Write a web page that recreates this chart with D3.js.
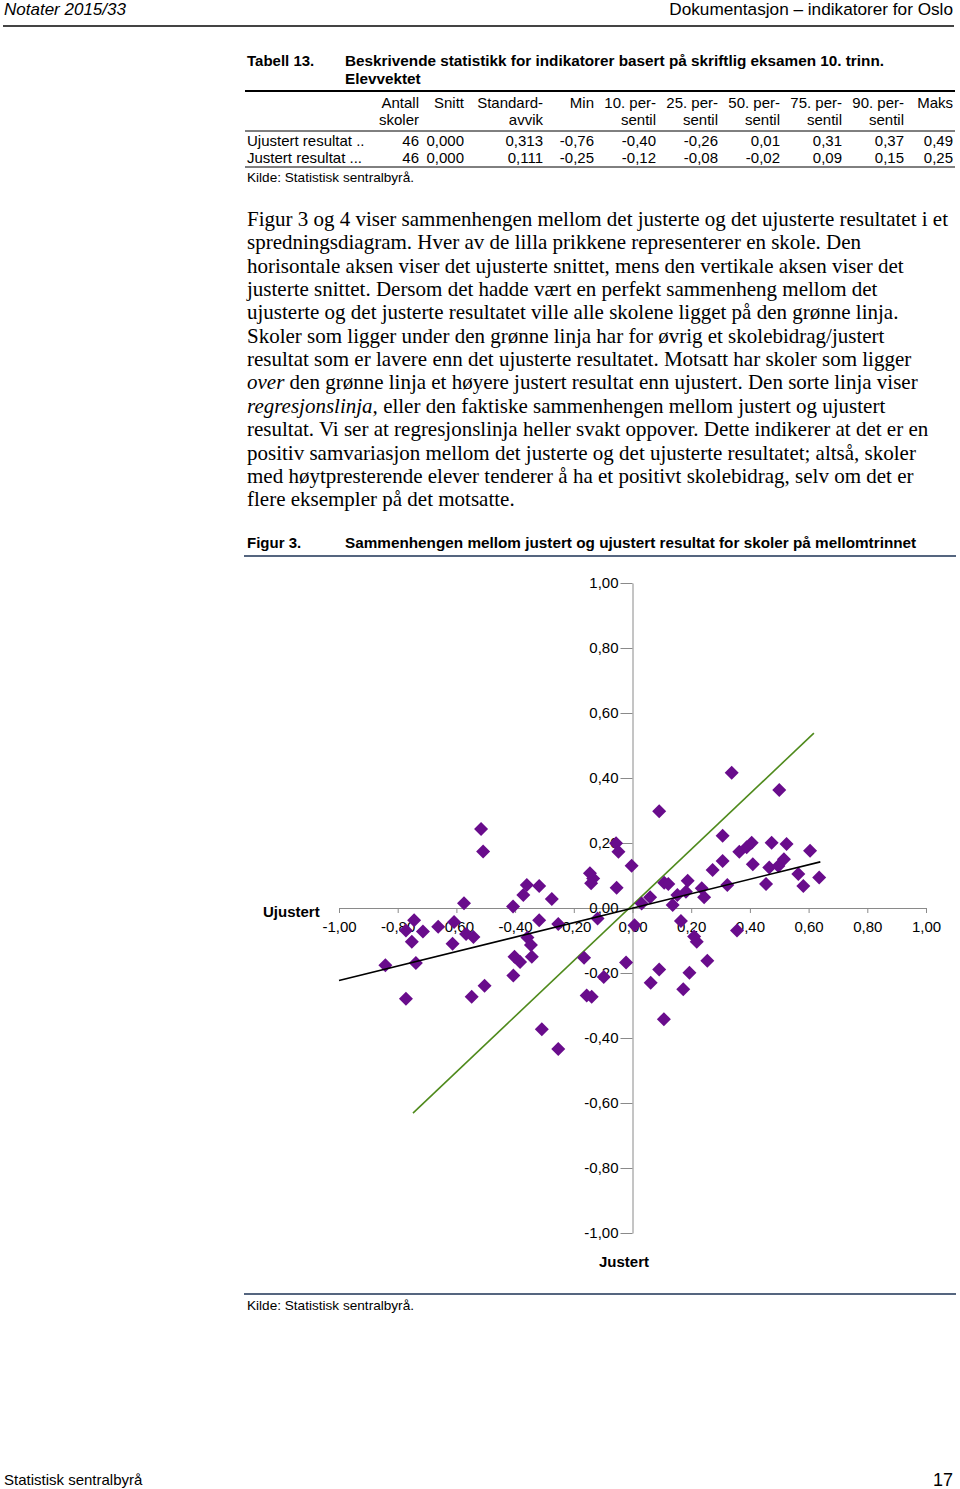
<!DOCTYPE html>
<html>
<head>
<meta charset="utf-8">
<script src="https://cdn.jsdelivr.net/npm/d3@7"></script>
<style>
  body { margin: 0; background: #fff; }
  text { font-family: "Liberation Sans", Arial, Helvetica, sans-serif; fill: #000; }
  .serif { font-family: "Liberation Serif", "Times New Roman", serif; font-size: 21px; }
  .axis path, .axis line { stroke: #8a8a8a; }
  .axis text { font-size: 15px; fill: #000; }
</style>
</head>
<body>
<div id="page"></div>
<script>
// table 13
var colHead1 = ["Antall", "Snitt", "Standard-", "Min", "10. per-", "25. per-", "50. per-", "75. per-", "90. per-", "Maks"];
var colHead2 = ["skoler", "", "avvik", "", "sentil", "sentil", "sentil", "sentil", "sentil", ""];
var rowLabels = ["Ujustert resultat ..", "Justert resultat ..."];
var ujustertStats = ["46", "0,000", "0,313", "-0,76", "-0,40", "-0,26", "0,01", "0,31", "0,37", "0,49"];
var justertStats = ["46", "0,000", "0,111", "-0,25", "-0,12", "-0,08", "-0,02", "0,09", "0,15", "0,25"];

// figure 3: one point per school
var ujustert = [-0.516, -0.509, -0.574, -0.407, -0.744, -0.772, -0.714, -0.662, -0.608, -0.567,
  -0.542, -0.752, -0.613, -0.842, -0.738, -0.772, -0.548, -0.504, -0.402, -0.383,
  -0.406, -0.360, -0.318, -0.372, -0.275, -0.318, -0.253, -0.358, -0.346, -0.343,
  -0.309, -0.253, -0.119, -0.165, -0.098, -0.156, -0.139, -0.022, 0.007, -0.056,
  -0.048, -0.003, -0.145, -0.134, -0.141, -0.054, 0.338, 0.500, 0.091, 0.307,
  0.364, 0.389, 0.406, 0.474, 0.525, 0.605, 0.307, 0.273, 0.410, 0.466,
  0.497, 0.516, 0.565, 0.636, 0.455, 0.582, 0.323, 0.108, 0.122, 0.188,
  0.236, 0.182, 0.153, 0.137, 0.244, 0.060, 0.031, 0.165, 0.210, 0.219,
  0.356, 0.255, 0.091, 0.194, 0.062, 0.173, 0.107];
var justert = [0.243, 0.174, 0.015, 0.005, -0.038, -0.069, -0.072, -0.058, -0.043, -0.080,
  -0.089, -0.104, -0.110, -0.176, -0.169, -0.279, -0.273, -0.239, -0.150, -0.166,
  -0.208, 0.071, 0.068, 0.040, 0.028, -0.038, -0.049, -0.091, -0.114, -0.150,
  -0.373, -0.434, -0.032, -0.153, -0.212, -0.269, -0.273, -0.168, -0.053, 0.199,
  0.173, 0.130, 0.107, 0.091, 0.076, 0.062, 0.416, 0.363, 0.298, 0.222,
  0.173, 0.187, 0.201, 0.201, 0.197, 0.176, 0.145, 0.117, 0.135, 0.125,
  0.129, 0.150, 0.105, 0.094, 0.074, 0.068, 0.071, 0.078, 0.074, 0.084,
  0.061, 0.050, 0.040, 0.009, 0.033, 0.033, 0.014, -0.040, -0.088, -0.104,
  -0.069, -0.162, -0.189, -0.199, -0.230, -0.250, -0.342];
// green line (perfect relation) and black regression line, end points
var greenLine = [[-0.748, -0.631], [0.618, 0.538]];
var regLine = [[-1.0, -0.223], [0.64, 0.142]];
var axisTicks = [-1, -0.8, -0.6, -0.4, -0.2, 0, 0.2, 0.4, 0.6, 0.8, 1];

var paragraph = [
  "Figur 3 og 4 viser sammenhengen mellom det justerte og det ujusterte resultatet i et",
  "spredningsdiagram. Hver av de lilla prikkene representerer en skole. Den",
  "horisontale aksen viser det ujusterte snittet, mens den vertikale aksen viser det",
  "justerte snittet. Dersom det hadde vært en perfekt sammenheng mellom det",
  "ujusterte og det justerte resultatet ville alle skolene ligget på den grønne linja.",
  "Skoler som ligger under den grønne linja har for øvrig et skolebidrag/justert",
  "resultat som er lavere enn det ujusterte resultatet. Motsatt har skoler som ligger",
  "<i>over</i> den grønne linja et høyere justert resultat enn ujustert. Den sorte linja viser",
  "<i>regresjonslinja,</i> eller den faktiske sammenhengen mellom justert og ujustert",
  "resultat. Vi ser at regresjonslinja heller svakt oppover. Dette indikerer at det er en",
  "positiv samvariasjon mellom det justerte og det ujusterte resultatet; altså, skoler",
  "med høytpresterende elever tenderer å ha et positivt skolebidrag, selv om det er",
  "flere eksempler på det motsatte."
];

function draw() {
  var w = 960, h = 1489;
  var svg = d3.select("#page").append("svg")
    .attr("width", w)
    .attr("height", h);

  svg.append("rect").attr("width", w).attr("height", h).attr("fill", "#fff");

  // page header
  svg.append("text").attr("x", 4).attr("y", 15).style("font-size", "17px").style("font-style", "italic")
    .text("Notater 2015/33");
  svg.append("text").attr("x", 953).attr("y", 15).style("font-size", "17.2px").attr("text-anchor", "end")
    .text("Dokumentasjon – indikatorer for Oslo");
  svg.append("line").attr("x1", 3).attr("x2", 954).attr("y1", 26).attr("y2", 26)
    .attr("stroke", "#444").attr("stroke-width", 2);

  // table
  var colRight = [419, 464, 543, 594, 656, 718, 780, 842, 904, 953];
  svg.append("text").attr("x", 247).attr("y", 66).style("font-size", "15px").style("font-weight", "bold").text("Tabell 13.");
  svg.append("text").attr("x", 345).attr("y", 66).style("font-size", "15.3px").style("font-weight", "bold")
    .text("Beskrivende statistikk for indikatorer basert på skriftlig eksamen 10. trinn.");
  svg.append("text").attr("x", 345).attr("y", 84).style("font-size", "15.3px").style("font-weight", "bold").text("Elevvektet");
  svg.append("line").attr("x1", 245).attr("x2", 955).attr("y1", 91).attr("y2", 91).attr("stroke", "#000").attr("stroke-width", 2);

  var tbl = svg.append("g").style("font-size", "15px");
  tbl.selectAll(".h1").data(colHead1).enter().append("text")
    .attr("x", function(d, i) { return colRight[i]; }).attr("y", 108)
    .attr("text-anchor", "end").text(function(d) { return d; });
  tbl.selectAll(".h2").data(colHead2).enter().append("text")
    .attr("x", function(d, i) { return colRight[i]; }).attr("y", 125)
    .attr("text-anchor", "end").text(function(d) { return d; });
  svg.append("line").attr("x1", 245).attr("x2", 955).attr("y1", 131).attr("y2", 131).attr("stroke", "#000").attr("stroke-width", 1);

  [ujustertStats, justertStats].forEach(function(row, r) {
    var yy = 146 + r * 17;
    tbl.append("text").attr("x", 247).attr("y", yy).text(rowLabels[r]);
    tbl.selectAll(".r" + r).data(row).enter().append("text")
      .attr("x", function(d, i) { return colRight[i]; }).attr("y", yy)
      .attr("text-anchor", "end").text(function(d) { return d; });
  });
  svg.append("line").attr("x1", 245).attr("x2", 955).attr("y1", 167).attr("y2", 167).attr("stroke", "#000").attr("stroke-width", 1);
  svg.append("text").attr("x", 247).attr("y", 182).style("font-size", "13.6px").text("Kilde: Statistisk sentralbyrå.");

  // paragraph
  var para = svg.append("g");
  paragraph.forEach(function(line, i) {
    var t = para.append("text").attr("class", "serif").attr("x", 247).attr("y", 226 + i * 23.35);
    line.split(/(<i>.*?<\/i>)/).forEach(function(part) {
      if (!part) return;
      if (part.indexOf("<i>") === 0) {
        t.append("tspan").style("font-style", "italic").text(part.replace(/<\/?i>/g, ""));
      } else {
        t.append("tspan").text(part);
      }
    });
  });

  // figure title
  svg.append("text").attr("x", 247).attr("y", 548).style("font-size", "15px").style("font-weight", "bold").text("Figur 3.");
  svg.append("text").attr("x", 345).attr("y", 548).style("font-size", "15.3px").style("font-weight", "bold")
    .text("Sammenhengen mellom justert og ujustert resultat for skoler på mellomtrinnet");
  svg.append("line").attr("x1", 244).attr("x2", 956).attr("y1", 556).attr("y2", 556).attr("stroke", "#55657f").attr("stroke-width", 2);

  // scatter
  var x = d3.scaleLinear().domain([-1, 1]).range([339, 926]);
  var y = d3.scaleLinear().domain([-1, 1]).range([1233, 583]);
  var loc = d3.formatLocale({decimal: ",", thousands: " ", grouping: [3], currency: ["", ""], minus: "-"});
  var fmt = loc.format(".2f");

  var xAxis = d3.axisBottom(x).tickValues(axisTicks).tickFormat(fmt).tickSize(5).tickSizeOuter(0).tickPadding(8);
  var yAxis = d3.axisLeft(y).tickValues(axisTicks).tickFormat(fmt).tickSize(12).tickSizeOuter(0).tickPadding(2);

  svg.append("g").attr("class", "axis").attr("transform", "translate(0," + y(0) + ")").call(xAxis)
    .selectAll("text").style("font-family", "'Liberation Sans', Arial, sans-serif");
  svg.append("g").attr("class", "axis").attr("transform", "translate(" + x(0) + ",0)").call(yAxis)
    .selectAll("text").style("font-family", "'Liberation Sans', Arial, sans-serif");
  svg.selectAll(".axis .domain").attr("stroke", "#8a8a8a");

  var line = d3.line().x(function(d) { return x(d[0]); }).y(function(d) { return y(d[1]); });
  svg.append("path").datum(greenLine).attr("d", line).attr("stroke", "#4f8a1c").attr("stroke-width", 1.6).attr("fill", "none");

  var pts = ujustert.map(function(u, i) { return {u: u, j: justert[i]}; });
  svg.append("g").selectAll("path")
    .data(pts)
    .enter()
    .append("path")
    .attr("d", "M0,-7L7,0L0,7L-7,0Z")
    .attr("transform", function(d) { return "translate(" + x(d.u) + "," + y(d.j) + ")"; })
    .attr("fill", "#690c8c");

  svg.append("path").datum(regLine).attr("d", line).attr("stroke", "#000").attr("stroke-width", 1.6).attr("fill", "none");

  svg.append("text").attr("x", 263).attr("y", 917).style("font-size", "15px").style("font-weight", "bold").text("Ujustert");
  svg.append("text").attr("x", 624).attr("y", 1267).attr("text-anchor", "middle").style("font-size", "15px").style("font-weight", "bold").text("Justert");

  svg.append("line").attr("x1", 244).attr("x2", 956).attr("y1", 1294).attr("y2", 1294).attr("stroke", "#55657f").attr("stroke-width", 2);
  svg.append("text").attr("x", 247).attr("y", 1310).style("font-size", "13.6px").text("Kilde: Statistisk sentralbyrå.");

  // page footer
  svg.append("text").attr("x", 4).attr("y", 1485).style("font-size", "15px").text("Statistisk sentralbyrå");
  svg.append("text").attr("x", 953).attr("y", 1486).attr("text-anchor", "end").style("font-size", "18px").text("17");
}

window.onload = draw;
</script>
</body>
</html>
